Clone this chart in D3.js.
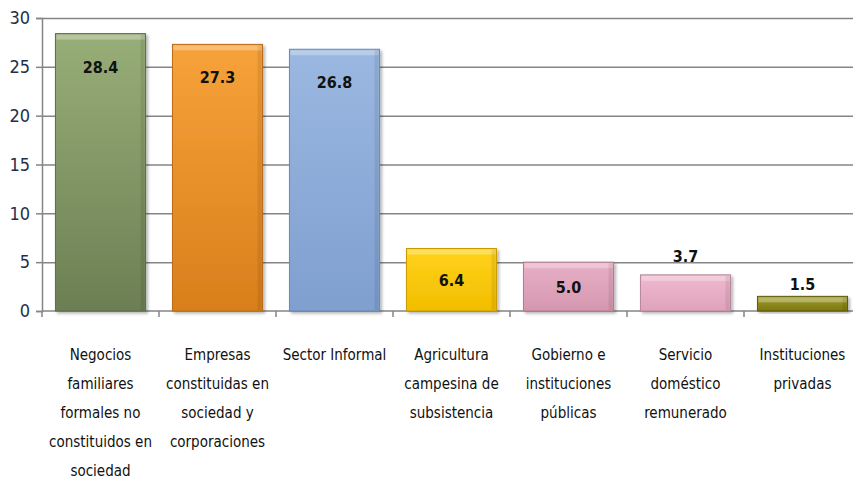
<!DOCTYPE html>
<html>
<head>
<meta charset="utf-8">
<script src="https://cdn.jsdelivr.net/npm/d3@7"></script>
<style>
  body { margin: 0; background: #fff; }
  svg { display: block; }
  text { font-family: "Liberation Sans Narrow", "DejaVu Sans Condensed", sans-serif; }
</style>
</head>
<body>
<div id="svgcontainer"></div>
<script>
// categories, one entry per bar, split in the lines shown under the axis
const categories = [
    ['Negocios', 'familiares', 'formales no', 'constituidos en', 'sociedad'],
    ['Empresas', 'constituidas en', 'sociedad y', 'corporaciones'],
    ['Sector Informal'],
    ['Agricultura', 'campesina de', 'subsistencia'],
    ['Gobierno e', 'instituciones', 'públicas'],
    ['Servicio', 'doméstico', 'remunerado'],
    ['Instituciones', 'privadas']
]
const values = [28.4, 27.3, 26.8, 6.4, 5.0, 3.7, 1.5]
const y_ticks = [0, 5, 10, 15, 20, 25, 30]
// [top colour, bottom colour, edge colour]
const bar_colors = [
    ['#98ae78', '#6c7f53', '#5c6c45'],
    ['#f7a23a', '#d87f1c', '#b86a14'],
    ['#9ab8e1', '#7f9fcf', '#6a88b5'],
    ['#ffd31a', '#f2bd00', '#c99a00'],
    ['#e7b0c6', '#d597b0', '#b07a90'],
    ['#f0b9cf', '#dea3bb', '#b6869a'],
    ['#a09c2a', '#7b7812', '#5d5a0a']
]

const margin = { top: 18, left: 42 },
    band = 117,
    graph_width = band * values.length,
    graph_height = 293

const svg = d3.select('#svgcontainer')
    .append('svg')
    .attr('width', 853)
    .attr('height', 482)

const defs = svg.append('defs')
bar_colors.forEach((c, i) => {
    let grad = defs.append('linearGradient')
        .attr('id', 'grad' + i)
        .attr('x1', 0).attr('y1', 0).attr('x2', 0).attr('y2', 1)
    grad.append('stop').attr('offset', '0%').attr('stop-color', c[0])
    grad.append('stop').attr('offset', '100%').attr('stop-color', c[1])
})
// soft shadow under the bars
let shadow = defs.append('filter').attr('id', 'shadow')
    .attr('x', '-10%').attr('y', '-10%').attr('width', '130%').attr('height', '130%')
shadow.append('feDropShadow')
    .attr('dx', 2).attr('dy', 2).attr('stdDeviation', 1.5)
    .attr('flood-color', '#000').attr('flood-opacity', 0.3)

const g = svg.append('g')
    .attr('transform', 'translate(' + margin.left + ',' + margin.top + ')')

const xScale = d3.scaleBand()
    .domain(d3.range(values.length))
    .range([0, graph_width])
    .paddingInner(0.23)
    .paddingOuter(0.115)
const yScale = d3.scaleLinear().domain([0, 30]).range([graph_height, 0])

// gridlines
g.append('g')
    .selectAll('line')
    .data(y_ticks.slice(1))
    .join('line')
    .attr('x1', 0)
    .attr('x2', graph_width)
    .attr('y1', d => yScale(d) + 0.5)
    .attr('y2', d => yScale(d) + 0.5)
    .attr('stroke', '#858585')
    .attr('stroke-width', 1.5)

// y axis
let y_axis = g.append('g')
    .call(d3.axisLeft(yScale).tickValues(y_ticks).tickSize(6).tickPadding(6))
y_axis.select('.domain').attr('stroke', '#858585').attr('stroke-width', 1.5)
y_axis.selectAll('.tick line').attr('stroke', '#858585').attr('stroke-width', 1.5)
y_axis.selectAll('.tick text')
    .attr('font-size', 18)
    .attr('font-family', '"Liberation Sans Narrow", "DejaVu Sans Condensed", sans-serif')
    .attr('fill', '#1f2f4a')

// x axis line and ticks between categories
g.append('line')
    .attr('x1', 0).attr('x2', graph_width)
    .attr('y1', graph_height).attr('y2', graph_height)
    .attr('stroke', '#858585').attr('stroke-width', 1.5)
g.append('g')
    .selectAll('line')
    .data(d3.range(values.length + 1))
    .join('line')
    .attr('x1', d => d * band)
    .attr('x2', d => d * band)
    .attr('y1', graph_height)
    .attr('y2', graph_height + 6)
    .attr('stroke', '#858585').attr('stroke-width', 1.5)

// bars
const bars = g.append('g')
    .selectAll('g')
    .data(values)
    .join('g')
bars.append('rect')
    .attr('x', (d, i) => xScale(i))
    .attr('y', d => yScale(d))
    .attr('width', xScale.bandwidth())
    .attr('height', d => graph_height - yScale(d))
    .attr('fill', (d, i) => 'url(#grad' + i + ')')
    .attr('stroke', (d, i) => bar_colors[i][2])
    .attr('stroke-width', 1)
    .attr('filter', 'url(#shadow)')
// bevel highlight on top and sides
bars.append('rect')
    .attr('x', (d, i) => xScale(i) + 1)
    .attr('y', d => yScale(d) + 1)
    .attr('width', xScale.bandwidth() - 2)
    .attr('height', 5)
    .attr('fill', '#fff')
    .attr('opacity', 0.3)
bars.append('rect')
    .attr('x', (d, i) => xScale(i) + xScale.bandwidth() - 5)
    .attr('y', d => yScale(d) + 1)
    .attr('width', 4)
    .attr('height', d => graph_height - yScale(d) - 2)
    .attr('fill', '#000')
    .attr('opacity', 0.08)

// value labels
bars.append('text')
    .attr('x', (d, i) => xScale(i) + xScale.bandwidth() / 2)
    .attr('y', d => {
        let top = yScale(d)
        if (d < 3) return top - 6
        if (d < 4) return top - 13
        return Math.min(top + 39, (top + graph_height) / 2 + 6)
    })
    .attr('text-anchor', 'middle')
    .attr('font-size', 16)
    .attr('font-weight', 'bold')
    .attr('fill', '#111')
    .text(d => d.toFixed(1))

// category labels
const cat = g.append('g')
    .selectAll('text')
    .data(categories)
    .join('text')
    .attr('x', (d, i) => xScale(i) + xScale.bandwidth() / 2)
    .attr('y', graph_height + 49)
    .attr('text-anchor', 'middle')
    .attr('font-size', 15)
    .attr('fill', '#111')
cat.selectAll('tspan')
    .data(d => d)
    .join('tspan')
    .attr('x', function () { return d3.select(this.parentNode).attr('x') })
    .attr('dy', (d, i) => i == 0 ? 0 : 29)
    .text(d => d)
</script>
</body>
</html>
